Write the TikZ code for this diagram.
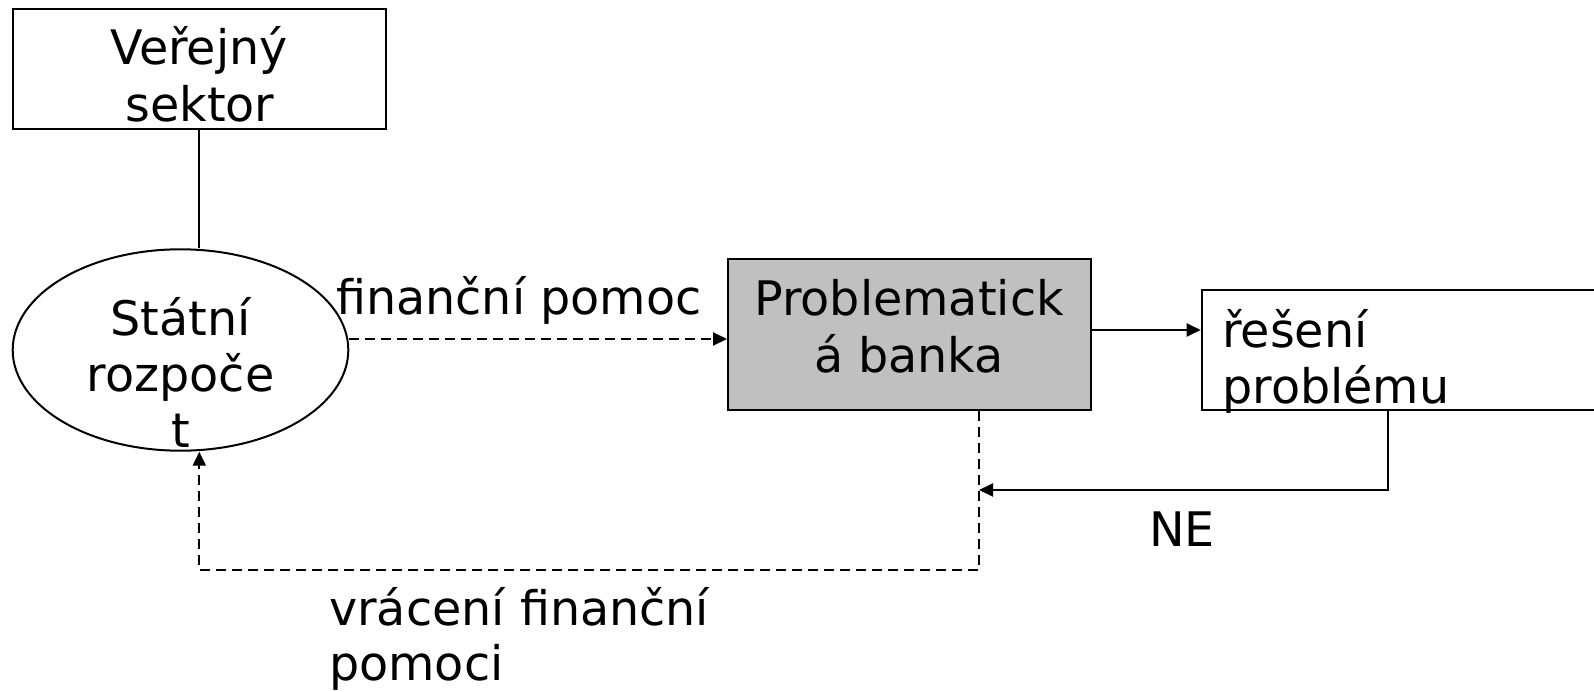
\documentclass[tikz,border=0pt]{standalone}
\usepackage{fontspec}
\setmainfont{DejaVu Sans}
\usetikzlibrary{arrows.meta,shapes.geometric}
\definecolor{boxgray}{HTML}{C0C0C0}
\tikzset{
  ln/.style={line width=2pt, draw=black},
  dsh/.style={ln, dash pattern=on 10pt off 6pt},
  tip/.style={-{Triangle[length=14pt,width=13pt]}},
  txt/.style={inner sep=0pt, anchor=base, font=\fontsize{47.6}{56}\selectfont},
  txtl/.style={txt, anchor=base west},
  box/.style={ln, rectangle, inner sep=0pt},
}
\begin{document}
\begin{tikzpicture}[x=1pt,y=-1pt]
\useasboundingbox (0,0) rectangle (1594,692);
\clip (0,0) rectangle (1594,692);
% shapes
\node[box, minimum width=373pt, minimum height=120.3pt] (vs) at (199.2,69.15) {};
\node[ln, ellipse, inner sep=0pt, minimum width=335.6pt, minimum height=201.4pt] (sr) at (180.5,350) {};
\node[box, fill=boxgray, minimum width=363pt, minimum height=151pt] (pb) at (909.5,334.5) {};
\node[box, minimum width=420pt, minimum height=120pt] (rs) at (1411.7,350) {};
% texts
\node[txt] (t1) at (199,65) {Veřejný};
\node[txt] (t2) at (200,122) {sektor};
\node[txt] (t3) at (180.5,335) {Státní};
\node[txt] (t4) at (180.5,391) {rozpoče};
\node[txt] (t5) at (180.5,447) {t};
\node[txt] (t6) at (909,316) {Problematick};
\node[txt] (t7) at (909,372) {á banka};
\node[txtl] (t8) at (1222,347) {řešení};
\node[txtl] (t9) at (1222,403) {problému};
\node[txtl] (t10) at (336,315) {finanční pomoc};
\node[txtl] (t11) at (1149,546) {NE};
\node[txtl] (t12) at (329,625) {vrácení finanční};
\node[txtl] (t13) at (329,680) {pomoci};
% coordinates
\coordinate (fp) at (0,339);
\coordinate (ra) at (0,330);
\coordinate (k1) at (1388,490);
\coordinate (k2) at (979,490);
\coordinate (d1) at (979,570);
\coordinate (d2) at (199.3,570);
% connectors
\draw[ln] (vs.south) -- (vs.south |- sr.north);
\draw[dsh, tip] (sr.east |- fp) -- (pb.west |- fp);
\draw[ln, tip] (pb.east |- ra) -- (rs.west |- ra);
\draw[ln, tip] (k1 |- rs.south) -- (k1) -- (k2);
\draw[dsh, tip] (d1 |- pb.south) -- (d1) -- (d2) -- (d2 |- sr.south);
\end{tikzpicture}
\end{document}
